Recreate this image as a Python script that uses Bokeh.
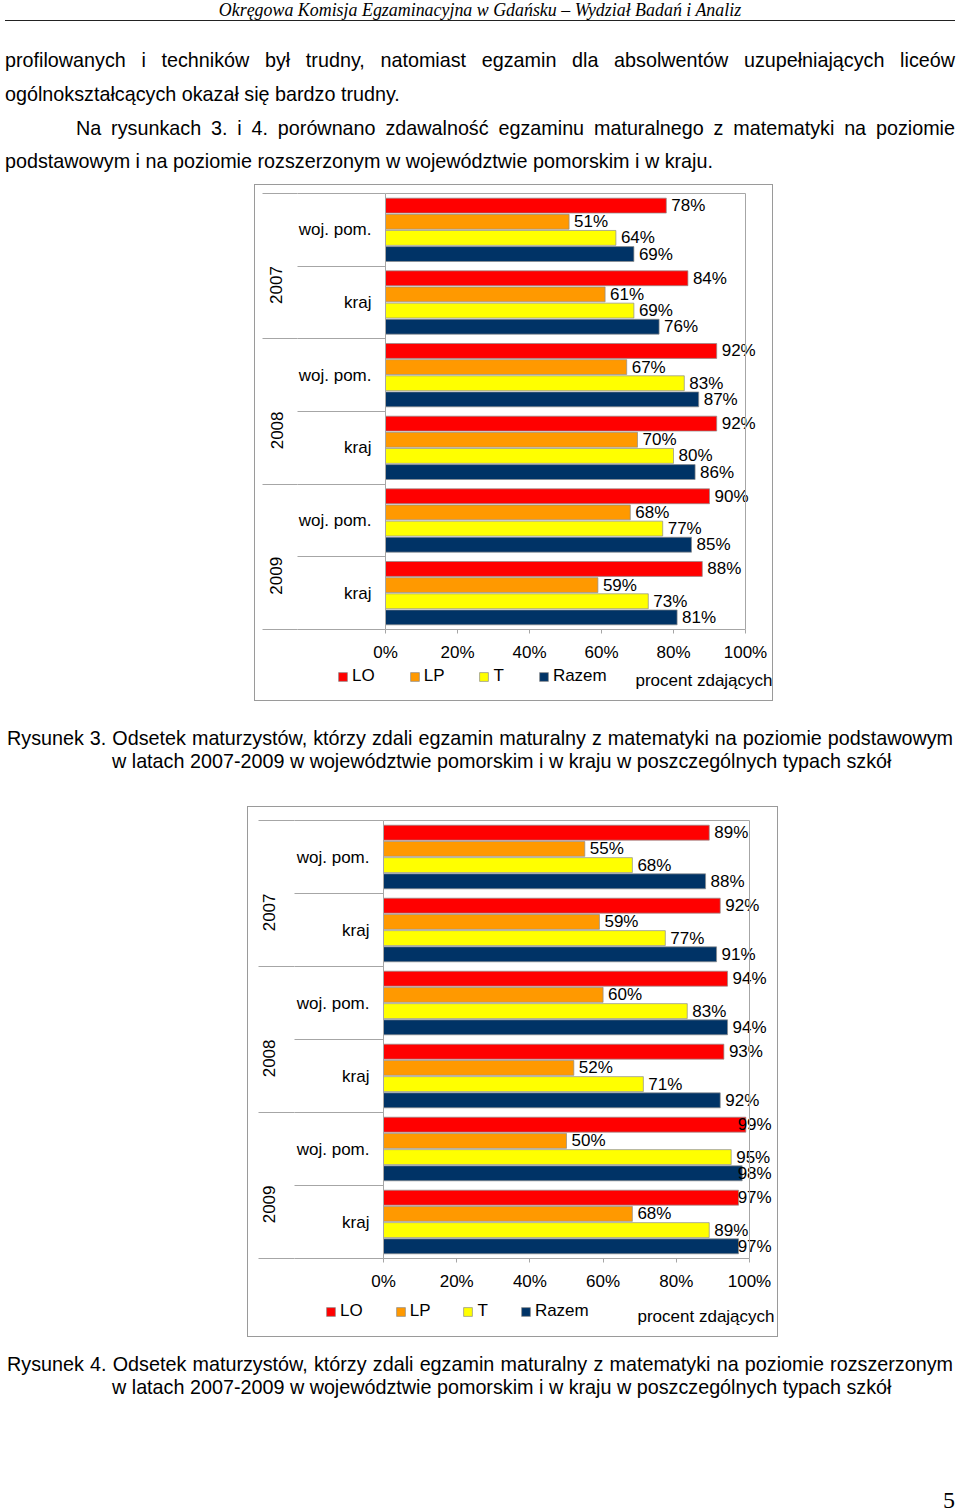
import math
from bokeh.plotting import figure
from bokeh.models import (ColumnDataSource, Legend, LegendItem, Label, Range1d,
                          NumeralTickFormatter, FixedTicker, Div, Spacer, LinearAxis)
from bokeh.layouts import column, row
from bokeh.core.properties import value
from bokeh.embed import file_html
from bokeh.resources import INLINE

# ---------------- data ----------------
years = ["2007", "2008", "2009"]
regions = ["woj. pom.", "kraj"]
series = ["LO", "LP", "T", "Razem"]

# order: 2007 woj. pom., 2007 kraj, 2008 woj. pom., 2008 kraj, 2009 woj. pom., 2009 kraj
# Rysunek 3 - poziom podstawowy
podst_LO = [78, 84, 92, 92, 90, 88]
podst_LP = [51, 61, 67, 70, 68, 59]
podst_T = [64, 69, 83, 80, 77, 73]
podst_Razem = [69, 76, 87, 86, 85, 81]

# Rysunek 4 - poziom rozszerzony
rozsz_LO = [89, 92, 94, 93, 99, 97]
rozsz_LP = [55, 59, 60, 52, 50, 68]
rozsz_T = [68, 77, 83, 71, 95, 89]
rozsz_Razem = [88, 91, 94, 92, 98, 97]

x_ticks = [0, 20, 40, 60, 80, 100]
x_title = "procent zdających"

header_text = "Okręgowa Komisja Egzaminacyjna w Gdańsku – Wydział Badań i Analiz"
body_lines = [
    "profilowanych i techników był trudny, natomiast egzamin dla absolwentów uzupełniających liceów",
    "ogólnokształcących okazał się bardzo trudny.",
    "Na rysunkach 3. i 4. porównano zdawalność egzaminu maturalnego z matematyki na poziomie",
    "podstawowym i na poziomie rozszerzonym w województwie pomorskim i w kraju.",
]
caption3 = ["Rysunek 3. Odsetek maturzystów, którzy zdali egzamin maturalny z matematyki na poziomie podstawowym",
            "w latach 2007-2009 w województwie pomorskim i w kraju w poszczególnych typach szkół"]
caption4 = ["Rysunek 4. Odsetek maturzystów, którzy zdali egzamin maturalny z matematyki na poziomie rozszerzonym",
            "w latach 2007-2009 w województwie pomorskim i w kraju w poszczególnych typach szkół"]
page_number = "5"

# ---------------- styles ----------------
colors = ["#FF0000", "#FF9900", "#FFFF00", "#003366"]
offsets = [1 / 3, 1 / 9, -1 / 9, -1 / 3]
FONT = "Liberation Sans"
GRAY = "#a6a6a6"


def make_chart(vals, width, height, x0_px, x100_px, ytop_px, ybot_px, sep_in, sep_out,
               label_cap, legend_xy, legend_spacing, title_xy, region_gap, year_gap):
    """x0_px/x100_px: canvas x of 0% / 100%; ytop_px/ybot_px: canvas y (from top)
    of the top / bottom of the plot area."""
    n_groups = len(years) * len(regions)
    cats = [(y, r) for y in years for r in regions]
    centers = [n_groups - 0.5 - i for i in range(n_groups)]

    xs = 1.0 / (x100_px - x0_px)             # data units per pixel
    ys = n_groups / (ybot_px - ytop_px)
    p = figure(width=width, height=height,
               x_range=Range1d(-x0_px * xs, (width - x0_px) * xs),
               y_range=Range1d(-(height - ybot_px) * ys, n_groups + ytop_px * ys),
               output_backend="svg", toolbar_location=None,
               min_border_left=0, min_border_right=0, min_border_top=0, min_border_bottom=0,
               x_axis_type=None, y_axis_type=None)
    p.grid.grid_line_color = None
    p.outline_line_color = None

    items = []
    for s, c, off in zip(series, colors, offsets):
        v = vals[s]
        src = ColumnDataSource(dict(y=[ctr + off for ctr in centers],
                                    x=[a / 100 for a in v],
                                    lx=[min(a, label_cap) / 100 for a in v],
                                    txt=[f"{a}%" for a in v]))
        r = p.hbar(y="y", left=0, right="x", height=0.205, source=src,
                   fill_color=c, line_color="#8c8c8c", line_width=0.7)
        p.text(x="lx", y="y", text="txt", source=src, x_offset=5,
               text_baseline="middle", text_align="left", text_font_size="17px",
               text_font=value(FONT), text_color="black")
        items.append(LegendItem(label=s, renderers=[r]))

    # plot-area border: top edge and right edge (100 %)
    p.segment(x0=[0, 1], y0=[n_groups, 0], x1=[1, 1], y1=[n_groups, n_groups],
              line_color=GRAY, line_width=1)

    # x axis (percent)
    xa = LinearAxis(fixed_location=0, bounds=(0, 1),
                    ticker=FixedTicker(ticks=[t / 100 for t in x_ticks]),
                    formatter=NumeralTickFormatter(format="0%"),
                    axis_line_color=GRAY, major_tick_line_color=GRAY,
                    major_tick_out=4, major_tick_in=0, minor_tick_line_color=None,
                    major_label_standoff=9, major_label_text_font_size="17px",
                    major_label_text_font=FONT, major_label_text_color="black")
    p.add_layout(xa, "below")

    # category axis: regions (separators drawn as minor ticks)
    region_labels = {ctr: cats[i][1] for i, ctr in enumerate(centers)}
    bounds_all = list(range(n_groups + 1))
    ra = LinearAxis(fixed_location=0, bounds=(0, n_groups),
                    ticker=FixedTicker(ticks=centers, minor_ticks=bounds_all),
                    major_label_overrides=region_labels,
                    axis_line_color=GRAY, major_tick_line_color=None,
                    major_tick_out=0, major_tick_in=0,
                    minor_tick_line_color=GRAY, minor_tick_out=sep_in, minor_tick_in=0,
                    major_label_standoff=region_gap - sep_in, major_label_text_font_size="17px",
                    major_label_text_font=FONT, major_label_text_color="black")
    p.add_layout(ra, "left")

    # category axis: years (outer level)
    per_year = len(regions)
    year_centers = [n_groups - per_year * (k + 0.5) for k in range(len(years))]
    year_bounds = [n_groups - per_year * k for k in range(len(years) + 1)]
    ya = LinearAxis(fixed_location=-sep_in * xs, bounds=(0, n_groups),
                    ticker=FixedTicker(ticks=year_centers, minor_ticks=year_bounds),
                    major_label_overrides={yc: years[k] for k, yc in enumerate(year_centers)},
                    major_label_orientation=math.pi / 2,
                    axis_line_color=None, major_tick_line_color=None,
                    major_tick_out=0, major_tick_in=0,
                    minor_tick_line_color=GRAY, minor_tick_out=sep_out, minor_tick_in=0,
                    major_label_standoff=year_gap - sep_out, major_label_text_font_size="17px",
                    major_label_text_font=FONT, major_label_text_color="black")
    p.add_layout(ya, "left")

    leg = Legend(items=items, orientation="horizontal", location=legend_xy,
                 glyph_width=11, glyph_height=11, label_standoff=4, spacing=legend_spacing,
                 padding=0, margin=0, border_line_color=None, background_fill_alpha=0,
                 label_text_font_size="17px", label_text_font=FONT, label_text_color="black",
                 label_width=5, label_height=17)
    p.add_layout(leg, "center")
    p.add_layout(Label(x=title_xy[0], y=title_xy[1], x_units="screen", y_units="screen",
                       text=x_title, text_font_size="17px", text_font=FONT,
                       text_baseline="middle", text_color="black"))
    p.styles = {"border": "1px solid #9a9a9a"}
    return p


vals3 = {"LO": podst_LO, "LP": podst_LP, "T": podst_T, "Razem": podst_Razem}
vals4 = {"LO": rozsz_LO, "LP": rozsz_LP, "T": rozsz_T, "Razem": rozsz_Razem}

# canvas of chart 3 starts at page (255, 185); chart 4 at page (248, 807)
chart3 = make_chart(vals3, 519, 517, 130, 490, 8, 444, 88, 35,
                    100, (82, 16), 34, (380, 22), 14, 21)
chart4 = make_chart(vals4, 531, 531, 135, 501, 13, 451, 89, 36,
                    95.4, (77, 17), 32, (389, 22), 14, 26)

SANS = "font-family:'Liberation Sans',Arial,sans-serif;color:#000;"
SERIF = "font-family:'Liberation Serif','Times New Roman',serif;color:#000;"


def line(text, left, top, width, lh, size, justify=False):
    j = "text-align:justify;text-align-last:justify;" if justify else "white-space:nowrap;"
    return (f'<div style="position:absolute;left:{left}px;top:{top}px;width:{width}px;'
            f'line-height:{lh}px;font-size:{size}px;{SANS}{j}">{text}</div>')


BODY = 19.75
top_html = (
    '<div style="position:relative;width:960px;height:184px;">'
    f'<div style="position:absolute;left:0;top:-0.5px;width:960px;line-height:20px;text-align:center;'
    f'font-size:17.9px;font-style:italic;{SERIF}">{header_text}</div>'
    '<div style="position:absolute;left:5px;top:20px;width:950px;border-top:1.5px solid #222;"></div>'
    + line(body_lines[0], 5, 43, 950, 34, BODY, True)
    + line(body_lines[1], 5, 77, 950, 34, BODY)
    + line(body_lines[2], 76, 111, 879, 34, BODY, True)
    + line(body_lines[3], 5, 144, 950, 34, BODY)
    + '</div>'
)

cap3_html = (
    '<div style="position:relative;width:960px;height:103px;">'
    + line(caption3[0], 7, 23.5, 946, 23, BODY, True)
    + line(caption3[1], 112, 46.5, 840, 23, BODY)
    + '</div>'
)

cap4_html = (
    '<div style="position:relative;width:960px;height:172px;">'
    + line(caption4[0], 7, 13.5, 946, 23, BODY, True)
    + line(caption4[1], 112, 36.5, 840, 23, BODY)
    + f'<div style="position:absolute;left:943px;top:151px;line-height:20px;font-size:24px;{SERIF}">{page_number}</div>'
    + '</div>'
)

top_div = Div(text=top_html, width=960, height=184, margin=0)
cap3_div = Div(text=cap3_html, width=960, height=103, margin=0)
cap4_div = Div(text=cap4_html, width=960, height=172, margin=0)

layout = column(
    top_div,
    row(Spacer(width=254, height=519), chart3),
    cap3_div,
    row(Spacer(width=247, height=533), chart4),
    cap4_div,
)

open("out.html", "w").write(file_html(layout, INLINE))
